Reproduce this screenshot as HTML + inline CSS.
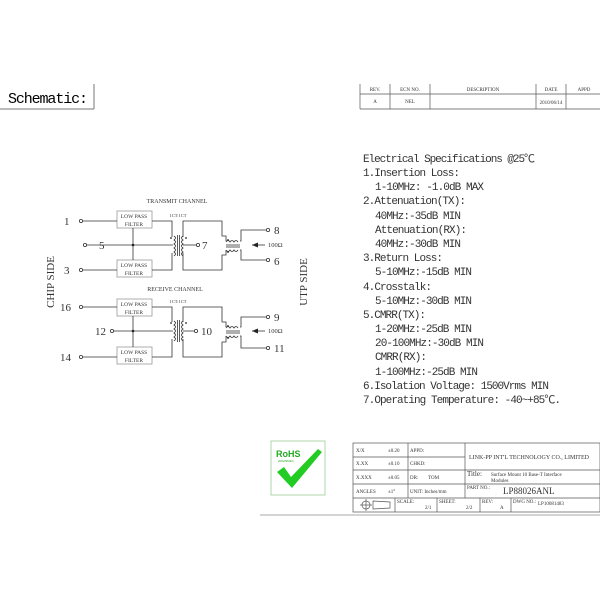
<!DOCTYPE html>
<html><head><meta charset="utf-8"><style>
html,body{margin:0;padding:0;background:#fff;}
svg{display:block;}
text{font-family:"Liberation Serif","Noto Serif CJK SC",serif;fill:#333;}
.m text{font-family:"Liberation Mono","Noto Sans CJK SC",monospace;}
</style></head><body>
<svg width="600" height="600" viewBox="0 0 600 600" xmlns="http://www.w3.org/2000/svg">
<text x="8" y="103" textLength="80" style="font-family:'Liberation Mono',monospace;font-size:15px;fill:#000">Schematic:</text>
<line x1="94" y1="84" x2="94" y2="109" stroke="#777" stroke-width="1"/>
<line x1="0" y1="109" x2="94" y2="109" stroke="#777" stroke-width="1"/>
<g stroke="#555" stroke-width="0.7" fill="none">
<line x1="360" y1="84" x2="360" y2="109"/>
<line x1="360" y1="94" x2="600" y2="94"/>
<line x1="360" y1="109" x2="600" y2="109"/>
<line x1="390" y1="84" x2="390" y2="109"/>
<line x1="430" y1="84" x2="430" y2="109"/>
<line x1="536" y1="84" x2="536" y2="109"/>
<line x1="566" y1="84" x2="566" y2="109"/>
</g>
<g style="font-size:5px" text-anchor="middle">
<text x="375" y="91">REV.</text><text x="410" y="91">ECN NO.</text><text x="483" y="91">DESCRIPTION</text><text x="551" y="91">DATE</text><text x="584" y="91">APPD</text>
<text x="375" y="103">A</text><text x="410" y="103">NEL</text><text x="551" y="104">2010/06/14</text>
</g>

<g class="m" style="font-size:11px">
<text x="363" y="162" textLength="172">Electrical Specifications @25℃</text>
<text x="363" y="176" textLength="97">1.Insertion Loss:</text>
<text x="375" y="190" textLength="109">1-10MHz: -1.0dB MAX</text>
<text x="363" y="204" textLength="103">2.Attenuation(TX):</text>
<text x="375" y="219" textLength="86">40MHz:-35dB MIN</text>
<text x="375" y="233" textLength="92">Attenuation(RX):</text>
<text x="375" y="247" textLength="86">40MHz:-30dB MIN</text>
<text x="363" y="261" textLength="80">3.Return Loss:</text>
<text x="375" y="275" textLength="97">5-10MHz:-15dB MIN</text>
<text x="363" y="290" textLength="69">4.Crosstalk:</text>
<text x="375" y="304" textLength="97">5-10MHz:-30dB MIN</text>
<text x="363" y="318" textLength="63">5.CMRR(TX):</text>
<text x="375" y="332" textLength="97">1-20MHz:-25dB MIN</text>
<text x="375" y="346" textLength="109">20-100MHz:-30dB MIN</text>
<text x="375" y="360" textLength="52">CMRR(RX):</text>
<text x="375" y="375" textLength="103">1-100MHz:-25dB MIN</text>
<text x="363" y="389" textLength="186">6.Isolation Voltage: 1500Vrms MIN</text>
<text x="363" y="403" textLength="198">7.Operating Temperature: -40~+85℃.</text>
</g>

<g stroke="#333" stroke-width="0.8" fill="none">
<rect x="117" y="211" width="35" height="17" stroke="#999"/>
<rect x="117" y="260" width="35" height="17" stroke="#999"/>
<circle cx="81" cy="221" r="1.6"/><line x1="83" y1="221" x2="117" y2="221"/>
<circle cx="85" cy="245" r="1.6"/><line x1="87" y1="245" x2="173" y2="245"/>
<circle cx="81" cy="270" r="1.6"/><line x1="83" y1="270" x2="117" y2="270"/>
<line x1="133" y1="228" x2="133" y2="260"/>
<polyline points="152,221 172,221 172,237"/>
<polyline points="152,270 172,270 172,253"/>
<path d="M174,236 q3,2 0,4 q3,2 0,4 q3,2 0,4 q3,2 0,4 q3,2 0,4"/>
<line x1="177.5" y1="235" x2="177.5" y2="256"/><line x1="179.5" y1="235" x2="179.5" y2="256"/>
<path d="M183,236 q-3,2 0,4 q-3,2 0,4 q-3,2 0,4 q-3,2 0,4 q-3,2 0,4"/>
<polyline points="183,237 183,221 222,221 222,236 226,236 226,241"/>
<polyline points="183,253 183,270 222,270 222,255 226,255 226,250"/>
<line x1="183" y1="245" x2="196" y2="245"/><circle cx="198" cy="245" r="1.6"/>
<path d="M226,242 q2,-3 4,0 q2,-3 4,0 q2,-3 4,0"/>
<line x1="226" y1="245" x2="240" y2="245"/><line x1="226" y1="247" x2="240" y2="247"/>
<path d="M226,250 q2,3 4,0 q2,3 4,0 q2,3 4,0"/>
<polyline points="240,241 241,241 241,230 266,230"/><circle cx="268" cy="230" r="1.6"/>
<polyline points="240,250 241,250 241,260 266,260"/><circle cx="268" cy="260" r="1.6"/>
<line x1="252" y1="245" x2="265" y2="245"/>
<rect x="117" y="299" width="35" height="17" stroke="#999"/>
<rect x="117" y="347" width="35" height="17" stroke="#999"/>
<circle cx="81" cy="307" r="1.6"/><line x1="83" y1="307" x2="117" y2="307"/>
<circle cx="112" cy="331" r="1.6"/><line x1="114" y1="331" x2="173" y2="331"/>
<circle cx="81" cy="357" r="1.6"/><line x1="83" y1="357" x2="117" y2="357"/>
<line x1="133" y1="316" x2="133" y2="347"/>
<polyline points="152,307 172,307 172,322"/>
<polyline points="152,357 172,357 172,339"/>
<path d="M174,321 q3,2 0,4 q3,2 0,4 q3,2 0,4 q3,2 0,4 q3,2 0,4"/>
<line x1="177.5" y1="320" x2="177.5" y2="342"/><line x1="179.5" y1="320" x2="179.5" y2="342"/>
<path d="M183,321 q-3,2 0,4 q-3,2 0,4 q-3,2 0,4 q-3,2 0,4 q-3,2 0,4"/>
<polyline points="183,322 183,307 222,307 222,322 226,322 226,327"/>
<polyline points="183,339 183,357 222,357 222,342 226,342 226,336"/>
<line x1="183" y1="331" x2="194" y2="331"/><circle cx="196" cy="331" r="1.6"/>
<path d="M226,328 q2,-3 4,0 q2,-3 4,0 q2,-3 4,0"/>
<line x1="226" y1="331" x2="240" y2="331"/><line x1="226" y1="333" x2="240" y2="333"/>
<path d="M226,336 q2,3 4,0 q2,3 4,0 q2,3 4,0"/>
<polyline points="240,327 241,327 241,317 266,317"/><circle cx="268" cy="317" r="1.6"/>
<polyline points="240,336 241,336 241,348 266,348"/><circle cx="268" cy="348" r="1.6"/>
<line x1="252" y1="331" x2="265" y2="331"/>
</g>
<g fill="#222">
<circle cx="133" cy="245" r="1.3"/><circle cx="133" cy="331" r="1.3"/>
<polygon points="252,245 258,242.5 258,247.5"/><polygon points="252,331 258,328.5 258,333.5"/>
<circle cx="171" cy="238" r="0.9"/><circle cx="186" cy="238" r="0.9"/><circle cx="228" cy="240" r="0.9"/><circle cx="228" cy="252" r="0.9"/>
<circle cx="171" cy="323" r="0.9"/><circle cx="186" cy="323" r="0.9"/><circle cx="228" cy="326" r="0.9"/><circle cx="228" cy="338" r="0.9"/>
</g>
<g style="font-size:6px" text-anchor="middle">
<text x="177" y="203">TRANSMIT CHANNEL</text>
<text x="175" y="291">RECEIVE CHANNEL</text>
<text x="134" y="218" style="font-size:5.5px">LOW PASS</text><text x="134" y="226" style="font-size:5.5px">FILTER</text>
<text x="134" y="267" style="font-size:5.5px">LOW PASS</text><text x="134" y="275" style="font-size:5.5px">FILTER</text>
<text x="134" y="306" style="font-size:5.5px">LOW PASS</text><text x="134" y="314" style="font-size:5.5px">FILTER</text>
<text x="134" y="354" style="font-size:5.5px">LOW PASS</text><text x="134" y="362" style="font-size:5.5px">FILTER</text>
<text x="178" y="217" style="font-size:4.5px">1CT:1CT</text>
<text x="178" y="303" style="font-size:4.5px">1CT:1CT</text>
</g>
<g style="font-size:11px">
<text x="64" y="225">1</text><text x="99" y="249">5</text><text x="64" y="274">3</text>
<text x="202" y="249">7</text><text x="274" y="234">8</text><text x="274" y="265">6</text>
<text x="60" y="311">16</text><text x="95" y="335">12</text><text x="60" y="361">14</text>
<text x="201" y="335">10</text><text x="274" y="321">9</text><text x="274" y="352">11</text>
<text x="268" y="247" style="font-size:6.5px">100Ω</text><text x="268" y="333" style="font-size:6.5px">100Ω</text>
<text transform="translate(54,282) rotate(-90)" text-anchor="middle" style="font-size:11px">CHIP SIDE</text>
<text transform="translate(307,282) rotate(-90)" text-anchor="middle" style="font-size:11px">UTP SIDE</text>
</g>

<rect x="271" y="441" width="54" height="54" fill="none" stroke="#9c9" stroke-width="0.8"/>
<text x="276" y="457" style="font-family:'Liberation Sans',sans-serif;font-weight:bold;font-size:9px;fill:#2a2">RoHS</text>
<text x="278" y="462" style="font-family:'Liberation Sans',sans-serif;font-size:3px;fill:#2a2">2002/95/EC</text>
<path d="M277,472 L284,467 L291,477 L318,449 L322,452 L292,488 Z" fill="#2c2"/>

<g stroke="#555" stroke-width="0.7" fill="none">
<rect x="353" y="443" width="247" height="69"/>
<line x1="353" y1="457" x2="465" y2="457"/>
<line x1="353" y1="470" x2="600" y2="470"/>
<line x1="353" y1="484" x2="600" y2="484"/>
<line x1="353" y1="498" x2="600" y2="498"/>
<line x1="408" y1="443" x2="408" y2="498"/>
<line x1="465" y1="443" x2="465" y2="498"/>
<line x1="395" y1="498" x2="395" y2="512"/>
<line x1="437" y1="498" x2="437" y2="512"/>
<line x1="480" y1="498" x2="480" y2="512"/>
<line x1="511" y1="498" x2="511" y2="512"/>
<circle cx="366" cy="505" r="4"/><line x1="360" y1="505" x2="372" y2="505"/><line x1="366" y1="499" x2="366" y2="511"/>
<polygon points="373,501 390,502 390,508 373,509"/>
</g>
<line x1="260" y1="515" x2="600" y2="515" stroke="#aaa" stroke-width="1"/>
<g style="font-size:5px">
<text x="356" y="452">X/X</text><text x="388" y="452">±0.20</text><text x="410" y="452">APPD:</text>
<text x="356" y="465">X.XX</text><text x="388" y="465">±0.10</text><text x="410" y="465">CHKD:</text>
<text x="356" y="479">X.XXX</text><text x="388" y="479">±0.05</text><text x="410" y="479">DR:</text><text x="428" y="479">TOM</text>
<text x="356" y="493">ANGLES</text><text x="388" y="493">±1°</text><text x="410" y="493">UNIT: Inches/mm</text>
<text x="397" y="503">SCALE:</text><text x="425" y="509">2/1</text>
<text x="439" y="503">SHEET:</text><text x="466" y="509">2/2</text>
<text x="482" y="503">REV:</text><text x="500" y="509">A</text>
<text x="513" y="503">DWG NO.:</text><text x="538" y="505">LP10081483</text>
<text x="469" y="459" style="font-size:6px">LINK-PP INT'L TECHNOLOGY CO., LIMITED</text>
<text x="467" y="476" style="font-size:7px">Title:</text><text x="491" y="476">Surface Mount 10 Base-T Interface</text>
<text x="491" y="482">Modules</text>
<text x="467" y="489">PART NO.:</text>
<text x="503" y="494" style="font-size:9px">LP88026ANL</text>
</g>
</svg>
</body></html>
